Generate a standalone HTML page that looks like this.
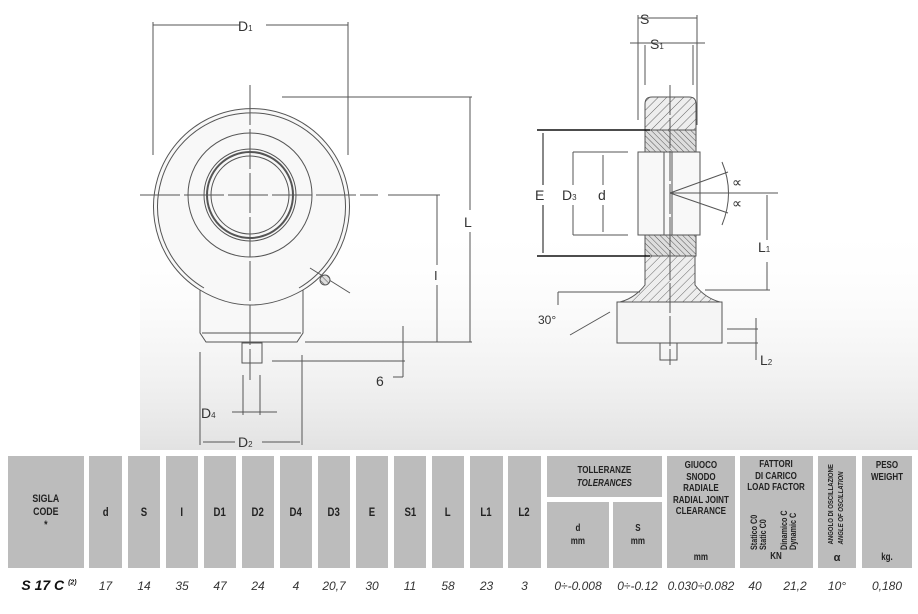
<!DOCTYPE html>
<html><head><meta charset="utf-8"><style>
body{margin:0;width:918px;height:614px;background:#fff;position:relative;overflow:hidden;font-family:"Liberation Sans",sans-serif}
.c{position:absolute;background:#bcbcbc;color:#222;font-weight:bold;font-size:12px;text-align:center;display:flex;align-items:center;justify-content:center;line-height:13px}
.c>div{transform:scaleX(.8);white-space:nowrap}
.v{position:absolute;font-style:italic;font-size:12px;color:#333;top:579px;text-align:center}
.r{position:absolute;writing-mode:vertical-rl;transform:rotate(180deg) scaleY(.8);font-size:9px;font-weight:bold;line-height:9px;white-space:nowrap;color:#222}
</style></head><body>
<svg width="918" height="450" style="position:absolute;left:0;top:0" font-family="Liberation Sans, sans-serif">
<defs>
<linearGradient id="g" x1="0" y1="0" x2="0" y2="1"><stop offset="0" stop-color="#fff" stop-opacity="0"/><stop offset="1" stop-color="#e2e2e2"/></linearGradient>
<pattern id="h" width="6" height="6" patternUnits="userSpaceOnUse" patternTransform="rotate(45)"><rect width="6" height="6" fill="#eee"/><line x1="0" y1="0" x2="0" y2="6" stroke="#666" stroke-width="1"/></pattern>
<pattern id="h2" width="4" height="4" patternUnits="userSpaceOnUse" patternTransform="rotate(-45)"><rect width="4" height="4" fill="#ddd"/><line x1="0" y1="0" x2="0" y2="4" stroke="#555" stroke-width="1"/></pattern>
</defs>
<rect x="140" y="220" width="778" height="230" fill="url(#g)"/>
<g fill="none" stroke="#555" stroke-width="1">
<path d="M200,290 A98,98 0 1 1 303,290 L303,333 L297,342 L206,342 L200,333 Z" fill="#f8f8f8"/>
<path d="M204,288 A94,94 0 1 1 299,288"/>
<path d="M200,290 Q250,320 303,290"/>
<circle cx="250" cy="195" r="62"/>
<circle cx="250" cy="195" r="46"/>
<circle cx="250" cy="195" r="43" stroke-width="2"/>
<circle cx="250" cy="195" r="39"/>
<line x1="202" y1="333" x2="301" y2="333"/>
<rect x="242" y="343" width="20" height="20"/>
<line x1="140" y1="195" x2="378" y2="195" stroke-dasharray="40,4"/>
<line x1="250" y1="85" x2="250" y2="380" stroke-dasharray="40,4"/>
<line x1="310" y1="268" x2="350" y2="293"/>
<circle cx="325" cy="280" r="5" fill="url(#h2)"/>
<line x1="153" y1="25" x2="240" y2="25"/><line x1="266" y1="25" x2="348" y2="25"/>
<line x1="153" y1="22" x2="153" y2="155"/><line x1="348" y1="22" x2="348" y2="155"/>
<line x1="282" y1="97" x2="472" y2="97"/><line x1="470" y1="97" x2="470" y2="210"/><line x1="470" y1="232" x2="470" y2="342"/>
<line x1="388" y1="195" x2="440" y2="195"/><line x1="437" y1="195" x2="437" y2="265"/><line x1="437" y1="285" x2="437" y2="342"/>
<line x1="305" y1="342" x2="472" y2="342"/>
<line x1="272" y1="361" x2="405" y2="361"/><line x1="403" y1="326" x2="403" y2="377"/><line x1="393" y1="377" x2="403" y2="377"/>
<line x1="200" y1="352" x2="200" y2="445"/><line x1="302" y1="355" x2="302" y2="445"/>
<line x1="203" y1="442" x2="235" y2="442"/><line x1="262" y1="442" x2="300" y2="442"/>
<line x1="243" y1="375" x2="243" y2="415"/><line x1="260" y1="375" x2="260" y2="415"/>
<line x1="232" y1="412" x2="277" y2="412"/>
<line x1="638" y1="18" x2="697" y2="18"/><line x1="630" y1="43" x2="705" y2="43"/>
<line x1="638" y1="15" x2="638" y2="120"/><line x1="697" y1="15" x2="697" y2="125"/>
<line x1="645" y1="45" x2="645" y2="85"/><line x1="693" y1="45" x2="693" y2="85"/>
<path d="M645,130 L645,104 Q645,97 652,97 L689,97 Q696,97 696,104 L696,130 Z" fill="url(#h)"/>
<rect x="645" y="130" width="51" height="23" fill="url(#h2)"/>
<rect x="645" y="235" width="51" height="21" fill="url(#h2)"/>
<rect x="638" y="152" width="62" height="83" fill="#f8f8f8"/>
<line x1="664" y1="152" x2="664" y2="235"/><line x1="672" y1="152" x2="672" y2="235"/>
<path d="M645,256 L645,285 Q635,298 620,302 L617,335 L623,343 L716,343 L722,335 L720,302 Q705,298 695,285 L695,256 Z" fill="url(#h)"/>
<rect x="617" y="302" width="105" height="41" fill="#f5f5f5"/>
<rect x="660" y="343" width="17" height="17"/>
<line x1="670" y1="85" x2="670" y2="365" stroke-dasharray="30,3"/>
<line x1="537" y1="130" x2="650" y2="130" stroke="#111" stroke-width="1.5"/><line x1="537" y1="256" x2="650" y2="256" stroke="#111" stroke-width="1.5"/>
<line x1="543" y1="133" x2="543" y2="185" stroke="#111"/><line x1="543" y1="205" x2="543" y2="253" stroke="#111"/>
<line x1="573" y1="152" x2="628" y2="152"/><line x1="573" y1="235" x2="628" y2="235"/>
<line x1="573" y1="152" x2="573" y2="185"/><line x1="573" y1="205" x2="573" y2="235"/>
<line x1="603" y1="155" x2="603" y2="185"/><line x1="603" y1="205" x2="603" y2="232"/>
<line x1="670" y1="193" x2="778" y2="193"/><line x1="670" y1="193" x2="728" y2="172"/><line x1="670" y1="193" x2="728" y2="213"/>
<path d="M722,162 Q735,193 722,225"/>
<line x1="767" y1="195" x2="767" y2="240"/><line x1="767" y1="262" x2="767" y2="290"/><line x1="705" y1="290" x2="770" y2="290"/>
<line x1="558" y1="292" x2="640" y2="292"/><line x1="558" y1="292" x2="558" y2="305"/><line x1="570" y1="335" x2="610" y2="312"/>
<line x1="727" y1="329" x2="758" y2="329"/><line x1="727" y1="343" x2="758" y2="343"/><line x1="756" y1="318" x2="756" y2="360"/>
</g>
<g fill="#333" font-size="14">
<text x="238" y="31">D<tspan font-size="8">1</tspan></text>
<text x="464" y="227">L</text><text x="434" y="280" font-size="13">I</text>
<text x="376" y="386">6</text>
<text x="201" y="418">D<tspan font-size="8">4</tspan></text>
<text x="238" y="447">D<tspan font-size="8">2</tspan></text>
<text x="640" y="24">S</text><text x="650" y="49">S<tspan font-size="8">1</tspan></text>
<text x="535" y="200">E</text><text x="562" y="200">D<tspan font-size="8">3</tspan></text><text x="598" y="200">d</text>
<text x="732" y="187" font-size="14">∝</text><text x="732" y="208" font-size="14">∝</text>
<text x="758" y="252">L<tspan font-size="8">1</tspan></text>
<text x="760" y="365">L<tspan font-size="8">2</tspan></text>
<text x="538" y="324" font-size="12">30°</text>
</g>
</svg>
<div class="c" style="left:8px;top:456px;width:76px;height:112px;font-size:11px"><div>SIGLA<br>CODE<br>*</div></div>
<div class="c" style="left:89px;top:456px;width:33px;height:112px"><div>d</div></div>
<div class="c" style="left:128px;top:456px;width:32px;height:112px"><div>S</div></div>
<div class="c" style="left:166px;top:456px;width:32px;height:112px"><div>I</div></div>
<div class="c" style="left:204px;top:456px;width:32px;height:112px"><div>D1</div></div>
<div class="c" style="left:242px;top:456px;width:32px;height:112px"><div>D2</div></div>
<div class="c" style="left:280px;top:456px;width:32px;height:112px"><div>D4</div></div>
<div class="c" style="left:318px;top:456px;width:32px;height:112px"><div>D3</div></div>
<div class="c" style="left:356px;top:456px;width:32px;height:112px"><div>E</div></div>
<div class="c" style="left:394px;top:456px;width:32px;height:112px"><div>S1</div></div>
<div class="c" style="left:432px;top:456px;width:32px;height:112px"><div>L</div></div>
<div class="c" style="left:470px;top:456px;width:33px;height:112px"><div>L1</div></div>
<div class="c" style="left:508px;top:456px;width:33px;height:112px"><div>L2</div></div>
<div class="c" style="left:547px;top:456px;width:115px;height:41px;font-size:10px"><div>TOLLERANZE<br><i>TOLERANCES</i></div></div>
<div class="c" style="left:547px;top:502px;width:62px;height:66px;font-size:10px"><div>d<br>mm</div></div>
<div class="c" style="left:613px;top:502px;width:49px;height:66px;font-size:10px"><div>S<br>mm</div></div>
<div class="c" style="left:667px;top:456px;width:68px;height:112px;font-size:10px;align-items:flex-start;line-height:11.5px"><div style="padding-top:4px">GIUOCO<br>SNODO<br>RADIALE<br>RADIAL JOINT<br>CLEARANCE<br><br><br><br>mm</div></div>
<div class="c" style="left:740px;top:456px;width:73px;height:112px;font-size:10px;align-items:flex-start;line-height:11.5px"><div style="padding-top:3px">FATTORI<br>DI CARICO<br>LOAD FACTOR<br><br><br><br><br><br>KN</div></div>
<div class="r" style="left:750px;top:505px;height:50px">Statico C0<br>Static C0</div>
<div class="r" style="left:780px;top:505px;height:50px">Dinamico C<br>Dynamic C</div>
<div class="c" style="left:818px;top:456px;width:38px;height:112px;align-items:flex-end;font-size:11px"><span style="padding-bottom:3px">α</span></div>
<div class="r" style="left:826px;top:458px;height:96px;font-size:7.5px;line-height:10px">ANGOLO DI OSCILLAZIONE<br><i>ANGLE OF OSCILLATION</i></div>
<div class="c" style="left:862px;top:456px;width:50px;height:112px;font-size:10px;align-items:flex-start;line-height:11.5px"><div style="padding-top:4px">PESO<br>WEIGHT<br><br><br><br><br><br><br>kg.</div></div>
<div class="v" style="left:12px;width:74px;font-weight:bold;font-size:14px;top:577px;color:#111">S 17 C <sup style="font-size:7px">(2)</sup></div>
<div class="v" style="left:89px;width:33px">17</div>
<div class="v" style="left:128px;width:32px">14</div>
<div class="v" style="left:166px;width:32px">35</div>
<div class="v" style="left:204px;width:32px">47</div>
<div class="v" style="left:242px;width:32px">24</div>
<div class="v" style="left:280px;width:32px">4</div>
<div class="v" style="left:318px;width:32px">20,7</div>
<div class="v" style="left:356px;width:32px">30</div>
<div class="v" style="left:394px;width:32px">11</div>
<div class="v" style="left:432px;width:32px">58</div>
<div class="v" style="left:470px;width:33px">23</div>
<div class="v" style="left:508px;width:33px">3</div>
<div class="v" style="left:547px;width:62px">0÷-0.008</div>
<div class="v" style="left:611px;width:53px">0÷-0.12</div>
<div class="v" style="left:664px;width:74px">0.030÷0.082</div>
<div class="v" style="left:745px;width:20px">40</div>
<div class="v" style="left:780px;width:30px">21,2</div>
<div class="v" style="left:818px;width:38px">10°</div>
<div class="v" style="left:862px;width:50px">0,180</div>
</body></html>
